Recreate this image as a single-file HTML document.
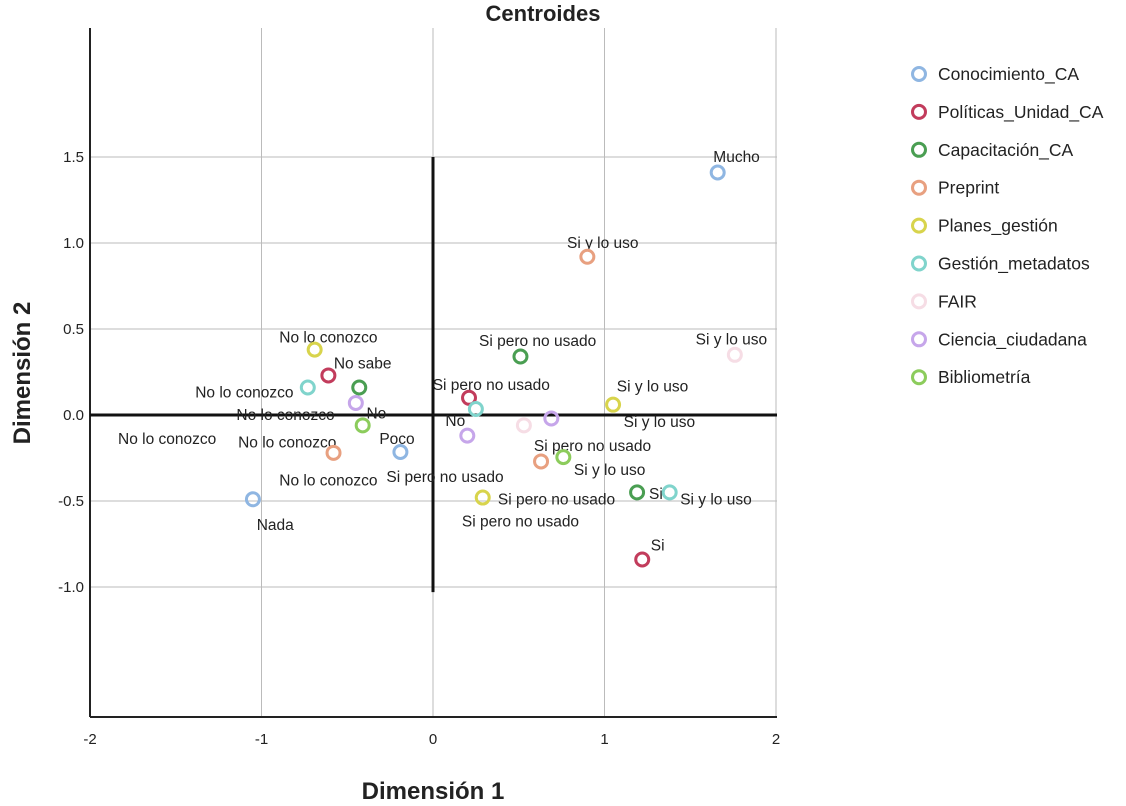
<!DOCTYPE html>
<html><head><meta charset="utf-8"><style>
body{margin:0;background:#fff;font-family:"Liberation Sans",sans-serif}
svg text{font-family:"Liberation Sans",sans-serif}
</style></head><body>
<svg id="chart" width="1126" height="801" viewBox="0 0 1126 801" xmlns="http://www.w3.org/2000/svg">
<g id="grid"></g>
<g id="axes"></g>
<g id="labels" font-size="15.5" fill="#222"></g>
<g id="points"></g>
<g id="legend"></g>
<text x="543" y="21" text-anchor="middle" font-size="22" font-weight="bold" fill="#222">Centroides</text>
<text x="433" y="799" text-anchor="middle" font-size="24" font-weight="bold" fill="#222">Dimensión 1</text>
<text transform="translate(30,373) rotate(-90)" text-anchor="middle" font-size="24" font-weight="bold" fill="#222">Dimensión 2</text>
</svg>
<script>
const xTicks=[-2,-1,0,1,2];
const xTickLabels=["-2","-1","0","1","2"];
const yTicks=[-1,-0.5,0,0.5,1,1.5];
const yTickLabels=["-1.0","-0.5","0.0","0.5","1.0","1.5"];
const seriesNames=["Conocimiento_CA","Políticas_Unidad_CA","Capacitación_CA","Preprint","Planes_gestión","Gestión_metadatos","FAIR","Ciencia_ciudadana","Bibliometría"];
const seriesColors=["#8fb6e2","#c23c5c","#4a9e52","#e8a080","#d8d44c","#80d4cc","#f6dde5","#c6a6ea","#8ccc5c"];
const conocimientoX=[1.66,-1.05,-0.19];
const conocimientoY=[1.41,-0.49,-0.215];
const politicasX=[-0.61,0.21,1.22];
const politicasY=[0.23,0.10,-0.84];
const capacitacionX=[-0.43,0.51,1.19];
const capacitacionY=[0.16,0.34,-0.45];
const preprintX=[0.90,-0.58,0.63];
const preprintY=[0.92,-0.22,-0.27];
const planesX=[-0.69,1.05,0.29];
const planesY=[0.38,0.06,-0.48];
const metadatosX=[-0.73,0.25,1.38];
const metadatosY=[0.16,0.035,-0.45];
const fairX=[1.76,0.53];
const fairY=[0.35,-0.06];
const cienciaX=[-0.45,0.20,0.69];
const cienciaY=[0.07,-0.12,-0.02];
const biblioX=[-0.41,0.76];
const biblioY=[-0.06,-0.245];
const seriesX=[conocimientoX,politicasX,capacitacionX,preprintX,planesX,metadatosX,fairX,cienciaX,biblioX];
const seriesY=[conocimientoY,politicasY,capacitacionY,preprintY,planesY,metadatosY,fairY,cienciaY,biblioY];
const labelTexts=["Mucho","Si y lo uso","Si y lo uso","No lo conozco","No sabe","Si pero no usado","No lo conozco","Si pero no usado","No lo conozco","No","No","Si y lo uso","Si y lo uso","No lo conozco","No lo conozco","Poco","Si pero no usado","Si y lo uso","No lo conozco","Si pero no usado","Si pero no usado","Si","Si y lo uso","Si pero no usado","Nada","Si"];
const labelX=[1.77,0.99,1.74,-0.61,-0.41,0.61,-1.10,0.34,-0.86,-0.33,0.13,1.28,1.32,-1.55,-0.85,-0.21,0.93,1.03,-0.61,0.07,0.72,1.3,1.65,0.51,-0.92,1.31];
const labelY=[1.50,1.00,0.44,0.45,0.30,0.43,0.13,0.175,0.0,0.01,-0.035,0.165,-0.04,-0.14,-0.16,-0.14,-0.18,-0.32,-0.38,-0.36,-0.49,-0.46,-0.49,-0.62,-0.64,-0.76];
const X0=433,XS=171.5,Y0=415,YS=172,L=90,R=777,T=28,B=717;
const xs=v=>X0+XS*v, ys=v=>Y0-YS*v;
const NS="http://www.w3.org/2000/svg";
function mk(tag,attrs,parent,txt){const e=document.createElementNS(NS,tag);for(const k in attrs)e.setAttribute(k,attrs[k]);if(txt!==undefined)e.textContent=txt;parent.appendChild(e);return e;}
const grid=document.getElementById('grid'),axes=document.getElementById('axes');
xTicks.forEach((t,i)=>{ if(t>-2){const g=mk('line',{x1:xs(t),x2:xs(t),y1:T,y2:B,stroke:'#bbb','stroke-width':1},grid);

}
const tl=mk('text',{x:xs(t),y:B+27,'text-anchor':'middle','font-size':15,fill:'#222'},axes,xTickLabels[i]);

});
yTicks.forEach((t,i)=>{ if(t!==0){const g=mk('line',{x1:L,x2:R,y1:ys(t),y2:ys(t),stroke:'#bbb','stroke-width':1},grid);

}
const tl=mk('text',{x:L-6,y:ys(t)+5,'text-anchor':'end','font-size':15,fill:'#222'},axes,yTickLabels[i]);

});
const a1=mk('line',{x1:L,x2:L,y1:T,y2:B,stroke:'#222','stroke-width':2},axes);


const a2=mk('line',{x1:L,x2:R,y1:B,y2:B,stroke:'#222','stroke-width':2},axes);


const z1=mk('line',{x1:L,x2:R,y1:ys(0),y2:ys(0),stroke:'#111','stroke-width':3},axes);


const z2=mk('line',{x1:xs(0),x2:xs(0),y1:ys(1.5),y2:ys(-1.03),stroke:'#111','stroke-width':3},axes);


const lg=document.getElementById('labels');
labelTexts.forEach((s,i)=>{const t=mk('text',{x:xs(labelX[i]),y:ys(labelY[i])+5,'text-anchor':'middle'},lg,s);

});
const pg=document.getElementById('points');
seriesX.forEach((arr,si)=>arr.forEach((v,j)=>{const c=mk('circle',{cx:xs(v),cy:ys(seriesY[si][j]),r:6.5,fill:'none',stroke:seriesColors[si],'stroke-width':3},pg);

}));
const leg=document.getElementById('legend');
seriesNames.forEach((n,i)=>{const y=74+i*37.9;const g=mk('g',{},leg);


mk('circle',{cx:919,cy:y,r:6.5,fill:'none',stroke:seriesColors[i],'stroke-width':3},g);
mk('text',{x:938,y:y+6,'font-size':17.5,fill:'#222'},g,n);});
</script>
</body></html>
